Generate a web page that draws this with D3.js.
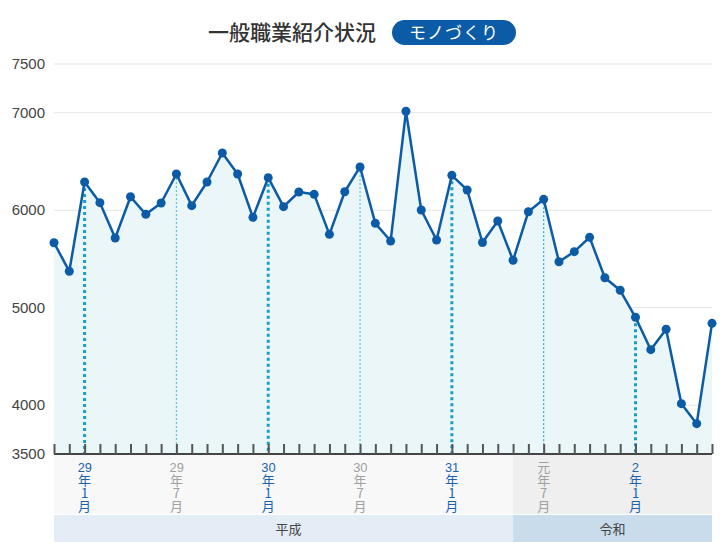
<!DOCTYPE html>
<html><head><meta charset="utf-8">
<script src="https://cdn.jsdelivr.net/npm/d3@7"></script>
<style>
html,body{margin:0;padding:0;background:#fff;}
#wrap{position:relative;width:720px;height:550px;}
#chart{position:absolute;left:0;top:0;}
text{font-family:"Noto Sans CJK JP","Liberation Sans",sans-serif;}
.xl{position:absolute;width:13px;margin-left:-6.5px;font-size:13px;line-height:13px;
    writing-mode:vertical-rl;text-orientation:upright;
    font-family:"Noto Sans CJK JP",sans-serif;white-space:nowrap;}
.xl .n{text-combine-upright:all;font-family:"Liberation Sans",sans-serif;}
</style></head>
<body>
<div id="wrap"><svg id="chart" width="720" height="550"></svg></div>
<script>
// Months from 平成28年11月 to 令和2年6月
const months = [
 "2016-11","2016-12",
 "2017-01","2017-02","2017-03","2017-04","2017-05","2017-06","2017-07","2017-08","2017-09","2017-10","2017-11","2017-12",
 "2018-01","2018-02","2018-03","2018-04","2018-05","2018-06","2018-07","2018-08","2018-09","2018-10","2018-11","2018-12",
 "2019-01","2019-02","2019-03","2019-04","2019-05","2019-06","2019-07","2019-08","2019-09","2019-10","2019-11","2019-12",
 "2020-01","2020-02","2020-03","2020-04","2020-05","2020-06"
];
const values = [
 5667,5374,
 6290,6078,5715,6139,5958,6074,6372,6047,6290,6587,6372,5927,
 6334,6037,6187,6163,5753,6190,6444,5866,5685,7015,6003,5695,
 6358,6208,5669,5890,5487,5985,6112,5472,5575,5722,5308,5179,
 4902,4570,4779,4016,3811,4840
];
const yTicks = [3500,4000,5000,6000,7000,7500];
// x-axis labels: [month, year label, month label, kind]
const xLabels = [
 ["2017-01","29","1","jan"],
 ["2017-07","29","7","jul"],
 ["2018-01","30","1","jan"],
 ["2018-07","30","7","jul"],
 ["2019-01","31","1","jan"],
 ["2019-07","元","7","jul"],
 ["2020-01","2","1","jan"]
];
const eras = [
 {name:"平成", start:"2016-11", end:"2019-05"},
 {name:"令和", start:"2019-05", end:"2020-06"}
];
const title = "一般職業紹介状況";
const badge = "モノづくり";

const svg = d3.select("#chart");
const x = d3.scalePoint().domain(months).range([54,712]);
const y = d3.scaleLinear().domain([3500,7500]).range([454,64]);

const mIndex = m => months.indexOf(m);
const data = months.map((m,i)=>({m, v:values[i]}));

// title
svg.append("text").attr("x",292).attr("y",40).attr("text-anchor","middle")
  .attr("font-size",21).attr("fill","#333").attr("font-weight",500).text(title);
svg.append("rect").attr("x",392).attr("y",20).attr("width",124).attr("height",25)
  .attr("rx",12.5).attr("fill","#0b5ba7");
svg.append("text").attr("x",454).attr("y",39).attr("text-anchor","middle")
  .attr("font-size",17).attr("fill","#fff").attr("letter-spacing",1).text(badge);

// label band backgrounds
const bandTop = 455, bandBot = 514, eraTop = 515, eraBot = 542;
const labelFill = ["#f8f8f8","#efefef"], eraFill = ["#e4edf6","#c9dcec"];
eras.forEach((e,i)=>{
  svg.append("rect").attr("x",x(e.start)).attr("y",bandTop)
    .attr("width",x(e.end)-x(e.start)).attr("height",bandBot-bandTop).attr("fill",labelFill[i]);
  svg.append("rect").attr("x",x(e.start)).attr("y",eraTop)
    .attr("width",x(e.end)-x(e.start)).attr("height",eraBot-eraTop).attr("fill",eraFill[i]);
  svg.append("text").attr("x",(x(e.start)+x(e.end))/2 + (i===0?5:0)).attr("y",534)
    .attr("text-anchor","middle").attr("font-size",13).attr("fill","#444").text(e.name);
});

// gridlines
svg.append("g").selectAll("line").data(yTicks.filter(t=>t>3500)).join("line")
  .attr("x1",54).attr("x2",712).attr("y1",d=>y(d)).attr("y2",d=>y(d))
  .attr("stroke","#e3e3e3").attr("stroke-width",1);

// area
const area = d3.area().x(d=>x(d.m)).y0(y(3500)).y1(d=>y(d.v));
svg.append("path").datum(data).attr("d",area).attr("fill","#e9f5f8").attr("opacity",0.95);

// vertical dotted lines
xLabels.forEach(l=>{
  const v = values[mIndex(l[0])];
  const isJan = l[3]==="jan";
  svg.append("line").attr("x1",x(l[0])).attr("x2",x(l[0]))
    .attr("y1",y(v)).attr("y2",y(3500))
    .attr("stroke", isJan ? "#1a9ec9" : (l[1]==="元" ? "#3aa6c8" : "#5cc4e0"))
    .attr("stroke-width", isJan ? 3 : 1.2)
    .attr("stroke-dasharray", isJan ? "3,3" : "2,2");
});

// y labels
svg.append("g").selectAll("text").data(yTicks).join("text")
  .attr("x",45).attr("y",d=>y(d)+5).attr("text-anchor","end")
  .attr("font-size",15).attr("fill","#444")
  .style("font-family","'Liberation Sans',Arial,sans-serif").text(d=>d);

// axis with month ticks
const axis = d3.axisBottom(x).tickSize(-10).tickFormat("").tickSizeOuter(0);
const ag = svg.append("g").attr("transform",`translate(0,${y(3500)})`).call(axis);
ag.select(".domain").attr("stroke","#444").attr("stroke-width",2).attr("d",`M${x.range()[0]},0H${x.range()[1]}`);
ag.selectAll(".tick line").attr("stroke","#555").attr("stroke-width",2);

// line
const line = d3.line().x(d=>x(d.m)).y(d=>y(d.v));
svg.append("path").datum(data).attr("d",line).attr("fill","none")
  .attr("stroke","#0b5ba7").attr("stroke-width",2.5).attr("stroke-linejoin","round");
svg.append("g").selectAll("circle").data(data).join("circle")
  .attr("cx",d=>x(d.m)).attr("cy",d=>y(d.v)).attr("r",4.5).attr("fill","#0b5ba7");

// x labels: vertical writing, one column each
d3.select("#wrap").selectAll("div.xl").data(xLabels).join("div")
  .attr("class","xl")
  .style("left",d=>x(d[0])+"px")
  .style("top","461px")
  .style("color",d=>d[3]==="jan" ? "#1a62ad" : "#a0a0a0")
  .html(d=>{
    const yr = /[0-9]/.test(d[1]) ? `<span class="n">${d[1]}</span>` : d[1];
    return `${yr}年${d[2]}月`;
  });
</script>
</body></html>
